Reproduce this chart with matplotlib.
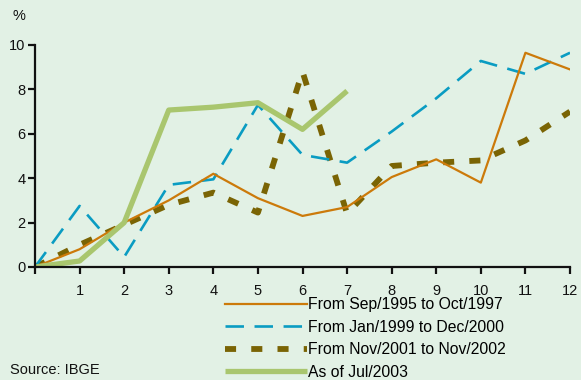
import numpy as np
from matplotlib import pyplot as plt

# Months since start of each episode
months = [0, 1, 2, 3, 4, 5, 6, 7, 8, 9, 10, 11, 12]
months_2003 = [0, 1, 2, 3, 4, 5, 6, 7]

# Accumulated change (%)
sep95_oct97 = [0, 0.8, 2.0, 3.0, 4.2, 3.1, 2.3, 2.7, 4.05, 4.85, 3.8, 9.65, 8.9]
jan99_dec00 = [0, 2.75, 0.45, 3.7, 3.95, 7.3, 5.05, 4.7, 6.1, 7.6, 9.28, 8.7, 9.65]
nov01_nov02 = [0, 1.0, 1.9, 2.8, 3.35, 2.45, 8.8, 2.4, 4.55, 4.7, 4.8, 5.7, 7.0]
jul03 = [0, 0.27, 2.0, 7.07, 7.2, 7.4, 6.2, 7.93]

labels = ["From Sep/1995 to Oct/1997", "From Jan/1999 to Dec/2000",
          "From Nov/2001 to Nov/2002", "As of Jul/2003"]

bg = "#e2f1e5"
plt.rcParams['font.family'] = ['Liberation Sans', 'DejaVu Sans']

fig = plt.figure(figsize=(5.81, 3.80), dpi=100, facecolor=bg)
ax = fig.add_axes([35/581, 1 - 267/380, 535/581, 222/380], facecolor=bg)

l1, = ax.plot(months, sep95_oct97, color="#cc7a0a", lw=1.6, zorder=4)
l2, = ax.plot(months, jan99_dec00, color="#0a9cc2", lw=1.9, dashes=(7, 4), zorder=3)
l3, = ax.plot(months, nov01_nov02, color="#7a6404", lw=4.2, dashes=(1.9, 2.6), zorder=2)
l4, = ax.plot(months_2003, jul03, color="#a9c66e", lw=3.8, solid_capstyle='butt', zorder=5)

ax.set_xlim(0, 12)
ax.set_ylim(0, 10)
ax.set_xticks(months)
ax.set_xticklabels([""] + [str(m) for m in months[1:]])
ax.set_yticks([0, 2, 4, 6, 8, 10])

for s in ["top", "right"]:
    ax.spines[s].set_visible(False)
for s in ["left", "bottom"]:
    ax.spines[s].set_linewidth(1.6)
    ax.spines[s].set_color("#111111")
ax.spines["left"].set_zorder(6)
ax.spines["bottom"].set_zorder(6)

ax.tick_params(axis="y", direction="out", length=5, width=1.6, pad=2,
               labelsize=10.5, colors="#111111")
ax.tick_params(axis="x", direction="out", length=5, width=1.6, pad=7,
               labelsize=10.5, colors="#111111")

fig.text(12/581, 1 - 16/380, "%", fontsize=10.5, color="#111111", va="center")
fig.text(10/581, 1 - 370/380, "Source: IBGE", fontsize=10.5, color="#111111", va="center")

fig.legend([l1, l2, l3, l4], labels, loc="upper left",
           bbox_to_anchor=(225/581, 1 - 297/380), frameon=False,
           fontsize=11.3, handlelength=5.2, handletextpad=0.1,
           labelspacing=0.48, borderpad=0, borderaxespad=0)

plt.savefig("out.png", dpi=100, facecolor=bg)
